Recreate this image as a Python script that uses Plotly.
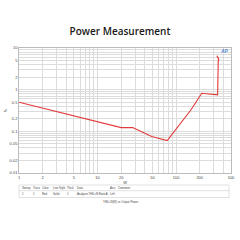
import plotly.graph_objects as go
import numpy as np

# Data (W, %)
power_w = [1, 20, 28, 49, 77, 155, 212, 338, 344, 347, 330, 349, 346]
thdn_pct = [0.5, 0.123, 0.123, 0.075, 0.060, 0.33, 0.82, 0.75, 4.8, 5.6, 6.5, 5.4, 4.9]

x_labels = [1, 2, 5, 10, 20, 50, 100, 200, 500]
y_labels = [10, 5, 2, 1, 0.5, 0.2, 0.1, 0.05, 0.02, 0.01]

table_header = ["Sweep", "Trace", "Color", "Line Style", "Thick", "Data", "Axis", "Comment"]
table_row = ["1", "1", "Red", "Solid", "1", "Analyzer.THD+N Ratio A", "Left", ""]
table_cols_px = [16, 27, 37, 48, 63, 73, 107, 116]

W, H = 240, 240
L, R, T, B = 15, 235, 48, 173


def px_x(p):
    return (p - L) / (R - L)


def px_y(p):
    return (B - p) / (B - T)


def minor_vals(lo_exp, hi_exp, maxv=None):
    vals = []
    for e in range(lo_exp, hi_exp + 1):
        for m in range(1, 10):
            v = m * 10 ** e
            if maxv is None or v <= maxv * 1.0001:
                vals.append(round(v, 6))
    return vals


xv = minor_vals(0, 2, maxv=500)
yv = minor_vals(-2, 1, maxv=10)


def fmt(v):
    return "%g" % v


xt = [fmt(v) if any(abs(v - l) < 1e-9 for l in x_labels) else "" for v in xv]
yt = [fmt(v) if any(abs(v - l) < 1e-9 for l in y_labels) else "" for v in yv]

fig = go.Figure()
fig.add_trace(go.Scatter(x=power_w, y=thdn_pct, mode="lines",
                         line=dict(color="#e23b3b", width=1.1), showlegend=False))

grid = "#dcdcdc"
tick_font = dict(size=4, color="#444", family="Liberation Sans")
fig.update_xaxes(type="log", range=[0, np.log10(500)], tickvals=xv, ticktext=xt,
                 showgrid=True, gridcolor=grid, gridwidth=0.6, zeroline=False,
                 showline=True, linecolor="#bbbbbb", linewidth=0.6, mirror=True,
                 tickfont=tick_font, ticks="", ticklen=0,
                 title=dict(text="W", font=dict(size=4, color="#444"), standoff=1))
fig.update_yaxes(type="log", range=[-2, 1], tickvals=yv, ticktext=yt,
                 showgrid=True, gridcolor=grid, gridwidth=0.6, zeroline=False,
                 showline=True, linecolor="#bbbbbb", linewidth=0.6, mirror=True,
                 tickfont=tick_font, ticks="", ticklen=0,
                 title=dict(text="%", font=dict(size=4, color="#444"), standoff=2))

small = dict(size=2.8, color="#444", family="Liberation Sans")
annotations = []
for name, xp in zip(table_header, table_cols_px):
    annotations.append(dict(x=px_x(xp), y=px_y(188), xref="paper", yref="paper", text=name,
                            showarrow=False, xanchor="left", yanchor="middle", font=small))
for val, xp in zip(table_row, table_cols_px):
    if val:
        annotations.append(dict(x=px_x(xp), y=px_y(194), xref="paper", yref="paper", text=val,
                                showarrow=False, xanchor="left", yanchor="middle", font=small))
annotations.append(dict(x=px_x(120), y=px_y(201.5), xref="paper", yref="paper",
                        text="THD+N(W) vs Output Power", showarrow=False,
                        xanchor="center", yanchor="middle", font=small))
annotations.append(dict(x=px_x(228), y=px_y(51), xref="paper", yref="paper",
                        text="<b><i>AP</i></b>", showarrow=False,
                        xanchor="center", yanchor="middle",
                        font=dict(size=5, color="#5a8ccc", family="Liberation Sans")))

shapes = []
for yy in [185, 190.7, 197.5]:
    shapes.append(dict(type="line", xref="paper", yref="paper",
                       x0=px_x(15), x1=px_x(233), y0=px_y(yy), y1=px_y(yy),
                       line=dict(color="#cccccc", width=0.6)))
for xx in [15, 233]:
    shapes.append(dict(type="line", xref="paper", yref="paper",
                       x0=px_x(xx), x1=px_x(xx), y0=px_y(185), y1=px_y(197.5),
                       line=dict(color="#cccccc", width=0.6)))

fig.update_layout(
    width=W, height=H,
    margin=dict(l=L, r=W - R, t=T, b=H - B),
    paper_bgcolor="white", plot_bgcolor="white",
    title=dict(text="Power Measurement", x=0.5, xanchor="center", y=1 - 31 / H, yanchor="middle",
               font=dict(size=10, color="#1a1a1a", family="Open Sans", weight=600)),
    annotations=annotations, shapes=shapes,
)

fig.write_html("out.html")
